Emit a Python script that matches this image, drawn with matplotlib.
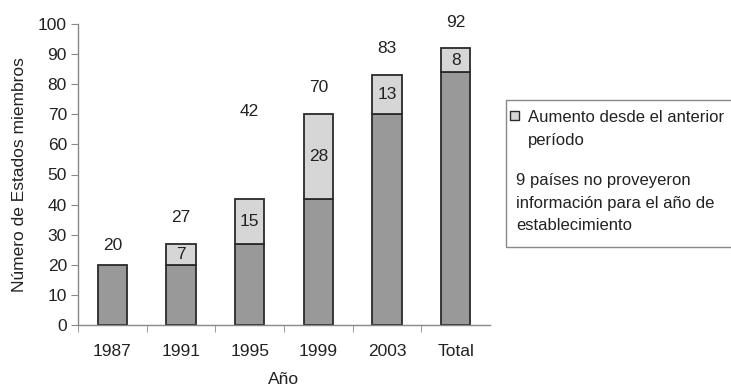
import matplotlib.pyplot as plt
from matplotlib.patches import Rectangle

plt.rcParams['font.family'] = ['Liberation Sans', 'DejaVu Sans']

categories = ['1987', '1991', '1995', '1999', '2003', 'Total']
base = [20, 20, 27, 42, 70, 84]
increase = [0, 7, 15, 28, 13, 8]
totals = [20, 27, 42, 70, 83, 92]
# gap between each bar top and its total label, in axis units
label_gap = [6.5, 8.7, 29.0, 8.8, 8.7, 8.4]

dark = '#999999'
light = '#d6d6d6'
edge = '#2a2a2a'
txt = '#222222'

fig = plt.figure(figsize=(7.31, 3.89), dpi=100)
ax = fig.add_axes([78 / 731, 1 - 325 / 389, 412 / 731, 301 / 389])

x = list(range(len(categories)))
w = 0.43
ax.bar(x, base, width=w, color=dark, edgecolor=edge, linewidth=1.3, zorder=2)
for i, (b, inc) in enumerate(zip(base, increase)):
    if inc > 0:
        ax.bar(i, inc, bottom=b, width=w, color=light, edgecolor=edge, linewidth=1.3, zorder=2)
        ax.text(i, b + inc / 2, str(inc), ha='center', va='center', fontsize=12.5, color=txt)
for i, (t, g) in enumerate(zip(totals, label_gap)):
    ax.text(i, t + g, str(t), ha='center', va='center', fontsize=12.5, color=txt)

ax.set_xlim(-0.5, len(categories) - 0.5)
ax.set_ylim(0, 100)
ax.set_yticks(range(0, 101, 10))
ax.set_xticks(x)
ax.set_xticklabels(categories)
ax.set_xticks([i + 0.5 for i in x[:-1]] + [-0.5], minor=True)
ax.tick_params(axis='x', which='major', length=0, pad=14, labelsize=12.5, labelcolor=txt)
ax.tick_params(axis='x', which='minor', length=5, color='#888888', direction='out')
ax.tick_params(axis='y', length=5, color='#888888', labelsize=12.5, labelcolor=txt, pad=3)
for s in ['top', 'right']:
    ax.spines[s].set_visible(False)
for s in ['left', 'bottom']:
    ax.spines[s].set_color('#888888')
    ax.spines[s].set_linewidth(1.0)

ax.set_xlabel('Año', fontsize=12.5, color=txt, labelpad=9)
ax.set_ylabel('Número de Estados miembros', fontsize=12.5, color=txt, labelpad=8)

# Legend box with note
fig.patches.append(Rectangle((506 / 731, 1 - 247 / 389), 240 / 731, 147 / 389,
                             transform=fig.transFigure, facecolor='white',
                             edgecolor='#888888', linewidth=1.0))
fig.patches.append(Rectangle((510 / 731, 1 - 120 / 389), 9 / 731, 9 / 389,
                             transform=fig.transFigure, facecolor=light,
                             edgecolor=edge, linewidth=1.0))
fig.text(528 / 731, 1 - 129 / 389, 'Aumento desde el anterior\nperíodo',
         fontsize=12, color=txt, va='center', ha='left', linespacing=1.65)
fig.text(516 / 731, 1 - 203 / 389,
         '9 países no proveyeron\ninformación para el año de\nestablecimiento',
         fontsize=12, color=txt, va='center', ha='left', linespacing=1.6)

fig.savefig('out.png', dpi=100)
